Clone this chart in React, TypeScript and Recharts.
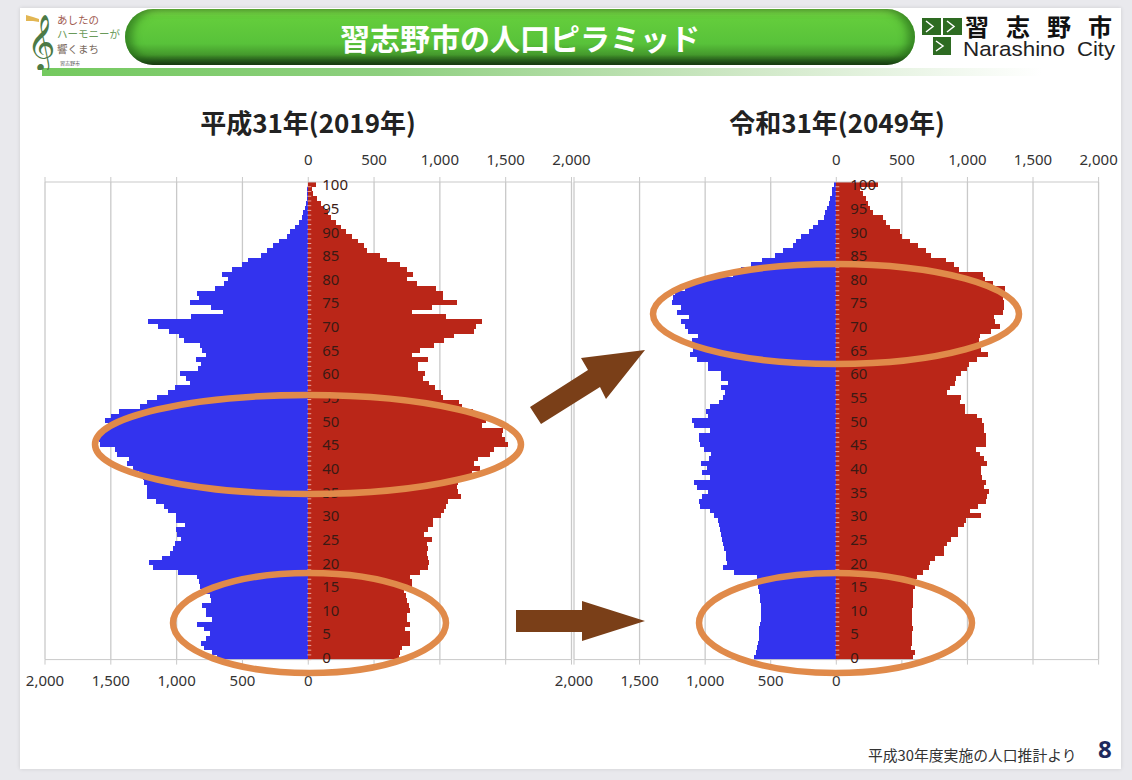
import React from "react";
import { Bar, BarChart, CartesianGrid, XAxis, YAxis } from "recharts";

// Ages run top-down through the band axis, from 100 to 0
const ages = Array.from({ length: 101 }, (_, i) => 100 - i);
const axisTicks = [-2000, -1500, -1000, -500, 0, 500, 1000, 1500, 2000];

const male2019 = [
  5, 8, 10, 13, 18, 25, 38, 51, 69, 97,
  135, 165, 221, 267, 315, 361, 457, 503, 577, 658,
  610, 640, 711, 843, 828, 897, 737, 648, 889, 1219,
  1138, 1059, 983, 947, 826, 805, 780, 856, 818, 838,
  973, 932, 902, 1016, 1064, 1146, 1227, 1278, 1435, 1499,
  1542, 1524, 1549, 1575, 1590, 1580, 1466, 1456, 1359, 1379,
  1334, 1283, 1257, 1245, 1227, 1227, 1227, 1156, 1093, 1067,
  1008, 1003, 935, 1008, 998, 965, 1016, 1029, 1054, 1113,
  1212, 1181, 986, 843, 833, 826, 775, 749, 741, 810,
  775, 780, 729, 846, 795, 749, 780, 813, 795, 729,
  694,
];

const female2019 = [
  56, 30, 38, 69, 99, 119, 150, 175, 208, 246,
  284, 335, 378, 424, 450, 544, 597, 696, 749, 798,
  749, 823, 970, 1024, 1024, 1130, 942, 787, 1046, 1323,
  1275, 1262, 1105, 1034, 953, 851, 792, 912, 831, 831,
  889, 874, 919, 963, 1008, 1026, 1148, 1168, 1250, 1339,
  1351, 1321, 1478, 1473, 1496, 1516, 1415, 1384, 1288, 1262,
  1306, 1242, 1207, 1135, 1130, 1135, 1161, 1064, 1046, 1029,
  1008, 950, 945, 912, 881, 942, 902, 907, 902, 907,
  914, 912, 851, 772, 787, 787, 729, 742, 749, 767,
  775, 749, 754, 772, 734, 775, 775, 770, 709, 699,
  693,
];

const male2049 = [
  18, 30, 36, 48, 58, 69, 86, 94, 137, 175,
  208, 267, 307, 333, 404, 467, 564, 650, 729, 785,
  988, 1090, 1153, 1229, 1242, 1250, 1184, 1217, 1120, 1186,
  1153, 1128, 1052, 1102, 1095, 1090, 1115, 1059, 975, 975,
  881, 879, 823, 881, 848, 866, 892, 963, 996, 975,
  1102, 1082, 963, 1044, 1044, 1039, 1008, 955, 968, 1031,
  988, 1026, 963, 1085, 1059, 975, 1026, 1046, 1039, 963,
  932, 899, 892, 884, 879, 871, 861, 853, 843, 841,
  836, 866, 780, 602, 602, 597, 589, 582, 579, 577,
  577, 577, 577, 582, 587, 587, 592, 597, 602, 615,
  627,
];

const female2049 = [
  318, 178, 203, 224, 241, 259, 279, 356, 381, 411,
  483, 498, 559, 622, 686, 719, 838, 894, 932, 1118,
  1133, 1194, 1283, 1270, 1270, 1275, 1278, 1270, 1199, 1207,
  1252, 1176, 1092, 1085, 1092, 1100, 1156, 1072, 1011, 996,
  953, 909, 902, 869, 843, 953, 947, 978, 978, 1074,
  1110, 1123, 1125, 1138, 1140, 1138, 1062, 1092, 1125, 1151,
  1105, 1100, 1110, 1143, 1123, 1163, 1148, 1143, 1080, 1016,
  1102, 986, 970, 927, 927, 876, 843, 818, 818, 749,
  716, 706, 660, 617, 610, 597, 584, 584, 584, 584,
  577, 577, 577, 579, 582, 579, 574, 574, 572, 599,
  584,
];

const tickFont = "'Noto Sans', sans-serif";
const cjkFont = "'Noto Sans CJK JP', sans-serif";
const gridGray = "#c9c9c9";

function buildRows(male: number[], female: number[]) {
  return ages.map((age, i) => ({ age, male: -male[i], female: female[i] }));
}

function PyramidPanel({
  male,
  female,
  left,
  plotWidth,
}: {
  male: number[];
  female: number[];
  left: number;
  plotWidth: number;
}) {
  const rows = buildRows(male, female);
  const AgeTick = (props: any) => {
    const { x, y, payload } = props;
    // the band axis sits at the plot's left edge, labels belong beside the zero line
    const zero = x + plotWidth / 2 + 6;
    return (
      <g>
        <line x1={zero + 1} x2={zero + 5} y1={y + 2.4} y2={y + 2.4} stroke="#e8a49c" strokeWidth={1} />
        {payload.value % 5 === 0 && (
          <text
            x={zero + 16}
            y={y + 0.5}
            dy="0.36em"
            fontFamily={tickFont}
            fontSize={15}
            fill="#3b1a14"
          >
            {payload.value}
          </text>
        )}
      </g>
    );
  };

  return (
    <div style={{ position: "absolute", left: left - 40, top: 131.7 }}>
      <BarChart
        width={plotWidth + 80}
        height={577.6}
        data={rows}
        layout="vertical"
        stackOffset="sign"
        barCategoryGap={0}
        margin={{ top: 20, right: 40, bottom: 20, left: 39 }}
      >
        <CartesianGrid
          xAxisId="top"
          horizontal={false}
          verticalValues={axisTicks}
          stroke={gridGray}
          strokeWidth={1.3}
        />
        <XAxis
          xAxisId="top"
          orientation="top"
          type="number"
          domain={[-2000, 2000]}
          ticks={axisTicks}
          interval={0}
          height={30}
          tickSize={5}
          tickMargin={12}
          stroke={gridGray}
          tick={{ fontSize: 15, fontFamily: tickFont, fill: "#333" }}
          tickFormatter={(v: number) => (v >= 0 ? v.toLocaleString("en-US") : "")}
        />
        <XAxis
          xAxisId="bottom"
          orientation="bottom"
          type="number"
          domain={[-2000, 2000]}
          allowDataOverflow
          ticks={axisTicks}
          interval={0}
          height={30}
          tickSize={5}
          tickMargin={11}
          stroke={gridGray}
          tick={{ fontSize: 15, fontFamily: tickFont, fill: "#333" }}
          tickFormatter={(v: number) => (v <= 0 ? Math.abs(v).toLocaleString("en-US") : "")}
        />
        <YAxis
          type="category"
          dataKey="age"
          width={1}
          interval={0}
          axisLine={false}
          tickLine={false}
          tick={AgeTick}
        />
        <Bar
          xAxisId="top"
          dataKey="male"
          stackId="pop"
          fill="#3333ee"
          shapeRendering="crispEdges"
          isAnimationActive={false}
        />
        <Bar
          xAxisId="top"
          dataKey="female"
          stackId="pop"
          fill="#ba2618"
          shapeRendering="crispEdges"
          isAnimationActive={false}
        />
      </BarChart>
    </div>
  );
}

function SlideHeader() {
  return (
    <>
      <div
        style={{
          position: "absolute",
          left: 125,
          top: 9,
          width: 790,
          height: 56,
          borderRadius: 28,
          background:
            "linear-gradient(180deg,#86de4c 0%,#64cd3c 16%,#58c23a 62%,#44982c 82%,#23501a 94%,#14240e 100%)",
          boxShadow: "inset 7px 0 8px rgba(30,90,20,0.55), inset -7px 0 8px rgba(30,90,20,0.55)",
        }}
      />
      <div
        style={{
          position: "absolute",
          left: 125,
          top: 9,
          width: 790,
          height: 56,
          lineHeight: "56px",
          textAlign: "center",
          color: "#fff",
          fontFamily: cjkFont,
          fontWeight: 700,
          fontSize: 30,
        }}
      >
        習志野市の人口ピラミッド
      </div>
      <div
        style={{
          position: "absolute",
          left: 42,
          top: 68,
          width: 1000,
          height: 8,
          background: "linear-gradient(90deg,#74c95f 0%,#8fd080 35%,#cfe8c6 70%,#ffffff 100%)",
        }}
      />
      {/* city slogan mark */}
      <svg style={{ position: "absolute", left: 0, top: 0 }} width={125} height={70}>
        <polygon points="26,15 33,17 39,19 39,22 33,21 26,21" fill="#e2b653" />
        <text x={41} y={58} textAnchor="middle" fontFamily="'DejaVu Sans', serif" fontSize={48} fill="#4c7a46">
          𝄞
        </text>
        <g fontFamily={cjkFont} fontSize={10.5}>
          <text x={57} y={24} fill="#a05a50">あしたの</text>
          <text x={57} y={38} fill="#6a9a5a">ハーモニーが</text>
          <text x={57} y={53} fill="#7a6a60">響くまち</text>
        </g>
        <text x={60} y={65} fontFamily={cjkFont} fontSize={5} fill="#555">習志野市</text>
      </svg>
      {/* city logo */}
      <svg style={{ position: "absolute", left: 915, top: 0 }} width={215} height={70}>
        <rect x={7} y={18} width={19} height={17} fill="#2e6b22" />
        <rect x={28} y={18} width={19} height={17} fill="#2e6b22" />
        <rect x={18} y={37} width={18} height={18} fill="#2e6b22" />
        <g fill="none" stroke="#fff" strokeWidth={1.5}>
          <polyline points="11,21 18,26.5 11,32" />
          <polyline points="32,21 39,26.5 32,32" />
          <polyline points="21,41 28,46 21,51" />
        </g>
        <text x="50 91 132 173" y={36} fontFamily={cjkFont} fontWeight={700} fontSize={24} fill="#111">
          習志野市
        </text>
        <g fontFamily="'Liberation Sans', sans-serif" fontSize={20.5} fill="#222">
          <text x={48} y={56} textLength={102} lengthAdjust="spacingAndGlyphs">Narashino</text>
          <text x={162} y={56} textLength={38} lengthAdjust="spacingAndGlyphs">City</text>
        </g>
      </svg>
    </>
  );
}

// Ovals and arrows laid over both pyramids
function Annotations() {
  const oval = { fill: "none", stroke: "#e08a4a", strokeWidth: 6.5 };
  return (
    <svg style={{ position: "absolute", left: 0, top: 0 }} width={1132} height={780}>
      <ellipse cx={308} cy={444.5} rx={213} ry={49.5} {...oval} />
      <ellipse cx={309.5} cy={623} rx={136.5} ry={50} {...oval} />
      <ellipse cx={836} cy={314} rx={183} ry={50} {...oval} />
      <ellipse cx={835.5} cy={623} rx={136.5} ry={50} {...oval} />
      <polygon
        points="530,407 588,370 581,358 645,350 606,399 600,387 541,424"
        fill="#7a3f18"
      />
      <polygon
        points="516,610 582,610 582,601 645,621 582,641 582,632 516,632"
        fill="#7a3f18"
      />
    </svg>
  );
}

function PanelTitle({ text, center }: { text: string; center: number }) {
  return (
    <div
      style={{
        position: "absolute",
        left: center - 150,
        top: 104,
        width: 300,
        textAlign: "center",
        fontFamily: cjkFont,
        fontWeight: 700,
        fontSize: 26,
        lineHeight: "36px",
        color: "#222",
      }}
    >
      {text}
    </div>
  );
}

export default function App() {
  return (
    <div
      style={{
        position: "absolute",
        left: 0,
        top: 0,
        width: 1132,
        height: 780,
        overflow: "hidden",
        background: "#e9e9ed",
      }}
    >
      <div
        style={{
          position: "absolute",
          left: 20,
          top: 8,
          width: 1101,
          height: 761,
          background: "#fff",
          boxShadow: "0 0 4px rgba(0,0,0,0.12)",
        }}
      />
      <SlideHeader />
      <PanelTitle text="平成31年(2019年)" center={308} />
      <PanelTitle text="令和31年(2049年)" center={837} />
      <PyramidPanel male={male2019} female={female2019} left={45} plotWidth={526.5} />
      <PyramidPanel male={male2049} female={female2049} left={574.4} plotWidth={524.6} />
      <Annotations />
      <div
        style={{
          position: "absolute",
          left: 868,
          top: 744,
          fontFamily: cjkFont,
          fontSize: 14.8,
          lineHeight: "22px",
          color: "#333",
          whiteSpace: "nowrap",
        }}
      >
        平成30年度実施の人口推計より
      </div>
      <div
        style={{
          position: "absolute",
          left: 1098,
          top: 734,
          fontFamily: "'Noto Sans', sans-serif",
          fontWeight: 700,
          fontSize: 24,
          lineHeight: "30px",
          color: "#1f2a5c",
        }}
      >
        8
      </div>
    </div>
  );
}
